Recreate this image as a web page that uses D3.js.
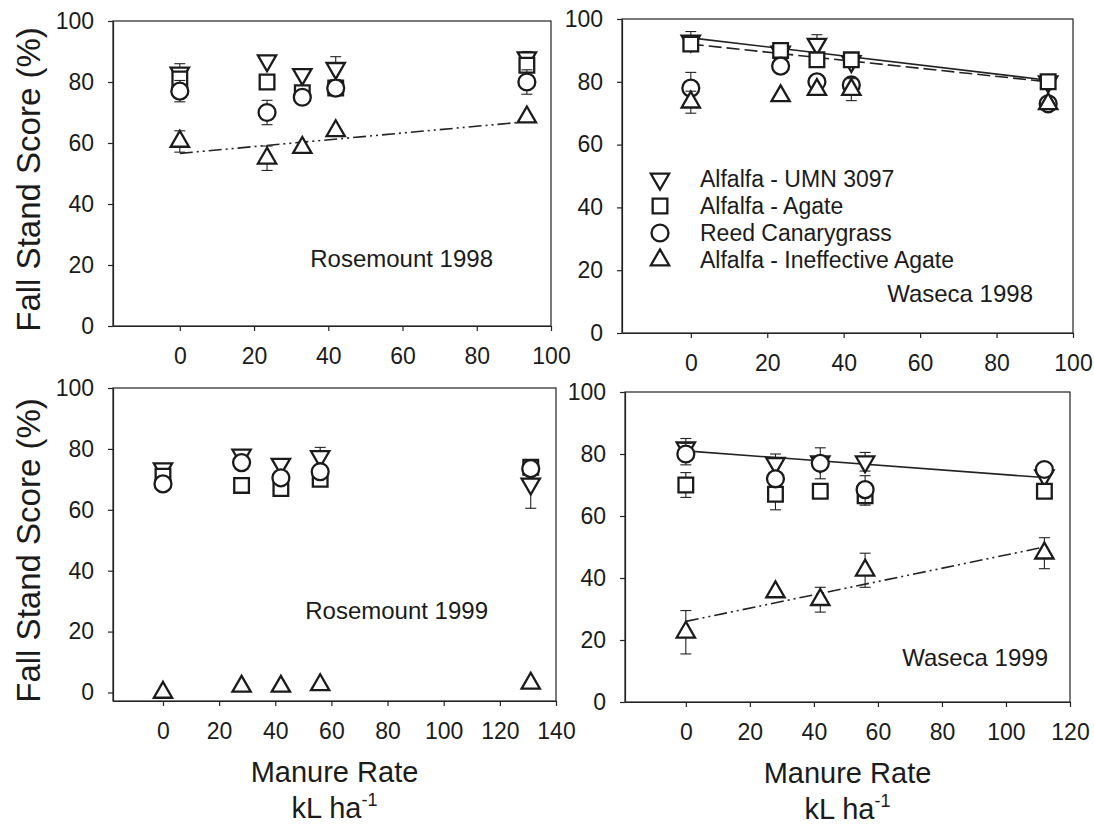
<!DOCTYPE html>
<html>
<head>
<meta charset="utf-8">
<script src="https://cdn.jsdelivr.net/npm/d3@7"></script>
<style>
	body { margin: 0; background: #fff; }
	svg text { font-family: "Liberation Sans", Arial, Helvetica, sans-serif; fill: #1b1b1b; }
	.axis path, .axis line { stroke: #222; stroke-width: 1.2; }
	.axis text { font-size: 23px; }
</style>
</head>
<body>
<svg id="graphic" width="1094" height="825"></svg>
<script>
// series, in legend (and drawing) order
const seriesNames = ["Alfalfa - UMN 3097", "Alfalfa - Agate", "Reed Canarygrass", "Alfalfa - Ineffective Agate"];
const seriesSymbols = ["down", "square", "circle", "up"];
const yTicks = [0, 20, 40, 60, 80, 100];

// Rosemount 1998
const rose98Rates = [0, 23.5, 33, 42, 93.5];
const rose98Umn = [83, 87, 82.5, 84.5, 88];
const rose98UmnErr = [3, 0, 0, 3.8, 2];
const rose98Agate = [81, 80, 76.5, 78, 85.5];
const rose98AgateErr = [0, 0, 0, 0, 0];
const rose98Reed = [77, 70, 75, 78, 80];
const rose98ReedErr = [3.5, 4, 0, 0, 4];
const rose98Ineff = [60.5, 55, 58.5, 64, 68.5];
const rose98IneffErr = [3.5, 4, 0, 0, 0];
const rose98FitX = [0, 93.5];
const rose98IneffFit = [56.6, 67];

// Waseca 1998
const wase98Rates = [0, 23.5, 33, 42, 93.5];
const wase98Umn = [93, 89.5, 92, 86.5, 80];
const wase98UmnErr = [3, 0, 3, 0, 0];
const wase98Agate = [92, 90, 87, 87, 80];
const wase98AgateErr = [0, 0, 0, 0, 0];
const wase98Reed = [78, 85, 80, 79, 73];
const wase98ReedErr = [5, 0, 0, 0, 0];
const wase98Ineff = [73.5, 75.5, 77.5, 77.5, 73];
const wase98IneffErr = [3.5, 0, 0, 3.5, 0];
const wase98FitX = [0, 93.5];
const wase98UmnFit = [94, 80.5];
const wase98AgateFit = [92, 80];

// Rosemount 1999
const rose99Rates = [0, 28, 42, 56, 131];
const rose99Umn = [73.5, 78, 75, 77.5, 68.5];
const rose99UmnErr = [0, 0, 0, 3, 8];
const rose99Agate = [71, 68, 67, 70, 74];
const rose99AgateErr = [0, 0, 0, 0, 0];
const rose99Reed = [68.5, 75.5, 70.5, 72.5, 73.5];
const rose99ReedErr = [0, 0, 0, 0, 0];
const rose99Ineff = [0, 2, 2, 2.5, 3];
const rose99IneffErr = [0, 0, 0, 0, 0];

// Waseca 1999
const wase99Rates = [0, 28, 42, 56, 112];
const wase99Umn = [82, 77, 77.5, 77.5, 73];
const wase99UmnErr = [3, 3, 0, 3, 0];
const wase99Agate = [70, 67, 68, 66.5, 68];
const wase99AgateErr = [4, 5, 0, 3, 0];
const wase99Reed = [80, 72, 77, 68.5, 75];
const wase99ReedErr = [3.5, 0, 5, 4.5, 0];
const wase99Ineff = [22.5, 35.5, 33, 42.5, 48];
const wase99IneffErr = [7, 0, 4, 5.5, 5];
const wase99FitX = [0, 112];
const wase99UmnFit = [81, 72.4];
const wase99IneffFit = [26, 50];

const dashSolid = null;
const dashLong = "13,5";
const dashDotDot = "13,4,2,4,2,4";

const svg = d3.select('#graphic');

const panels = [
	{
		label: "Rosemount 1998", box: { left: 113, top: 21, right: 551, bottom: 326 },
		xDomain: [-18, 100], xTicks: [0, 20, 40, 60, 80, 100], yDomain: [0, 100],
		rates: rose98Rates,
		values: [rose98Umn, rose98Agate, rose98Reed, rose98Ineff],
		errs: [rose98UmnErr, rose98AgateErr, rose98ReedErr, rose98IneffErr],
		fits: [{ x: rose98FitX, y: rose98IneffFit, dash: dashDotDot }],
		labelPos: { x: 493, y: 267 }, yTitle: true, xTitle: false, legend: false
	},
	{
		label: "Waseca 1998", box: { left: 622, top: 19, right: 1073, bottom: 333 },
		xDomain: [-18, 100], xTicks: [0, 20, 40, 60, 80, 100], yDomain: [0, 100],
		rates: wase98Rates,
		values: [wase98Umn, wase98Agate, wase98Reed, wase98Ineff],
		errs: [wase98UmnErr, wase98AgateErr, wase98ReedErr, wase98IneffErr],
		fits: [
			{ x: wase98FitX, y: wase98UmnFit, dash: dashSolid },
			{ x: wase98FitX, y: wase98AgateFit, dash: dashLong }
		],
		labelPos: { x: 1033, y: 302 }, yTitle: false, xTitle: false, legend: true
	},
	{
		label: "Rosemount 1999", box: { left: 113, top: 388, right: 556, bottom: 701 },
		xDomain: [-17.8, 140], xTicks: [0, 20, 40, 60, 80, 100, 120, 140], yDomain: [-2.8, 100],
		rates: rose99Rates,
		values: [rose99Umn, rose99Agate, rose99Reed, rose99Ineff],
		errs: [rose99UmnErr, rose99AgateErr, rose99ReedErr, rose99IneffErr],
		fits: [],
		labelPos: { x: 488, y: 619 }, yTitle: true, xTitle: true, legend: false
	},
	{
		label: "Waseca 1999", box: { left: 625, top: 392, right: 1070, bottom: 702 },
		xDomain: [-19, 120], xTicks: [0, 20, 40, 60, 80, 100, 120], yDomain: [0, 100],
		rates: wase99Rates,
		values: [wase99Umn, wase99Agate, wase99Reed, wase99Ineff],
		errs: [wase99UmnErr, wase99AgateErr, wase99ReedErr, wase99IneffErr],
		fits: [
			{ x: wase99FitX, y: wase99UmnFit, dash: dashSolid },
			{ x: wase99FitX, y: wase99IneffFit, dash: dashDotDot }
		],
		labelPos: { x: 1048, y: 666 }, yTitle: false, xTitle: true, legend: false
	}
];

function symbolFor(kind) {
	// d3 symbols: size is area
	if (kind === 'square') return d3.symbol(d3.symbolSquare, 215)();
	if (kind === 'circle') return d3.symbol(d3.symbolCircle, 225)();
	return d3.symbol(d3.symbolTriangle, 145)();
}

function drawMarker(g, kind, cx, cy) {
	g.append('path')
		.attr('d', symbolFor(kind))
		.attr('transform', `translate(${cx},${cy})` + (kind === 'down' ? ' rotate(180)' : ''))
		.attr('fill', '#fff')
		.attr('stroke', '#1b1b1b')
		.attr('stroke-width', 2.3);
}

function drawPanel(p) {
	const x = d3.scaleLinear().domain(p.xDomain).range([p.box.left, p.box.right]);
	const y = d3.scaleLinear().domain(p.yDomain).range([p.box.bottom, p.box.top]);
	const g = svg.append('g');

	// frame
	g.append('rect')
		.attr('x', p.box.left).attr('y', p.box.top)
		.attr('width', p.box.right - p.box.left)
		.attr('height', p.box.bottom - p.box.top)
		.attr('fill', 'none').attr('stroke', '#222').attr('stroke-width', 1.2);

	g.append('g')
		.attr('class', 'axis')
		.attr('transform', `translate(0,${p.box.bottom})`)
		.call(d3.axisBottom(x).tickValues(p.xTicks).tickSize(5).tickSizeOuter(0).tickPadding(17));

	g.append('g')
		.attr('class', 'axis')
		.attr('transform', `translate(${p.box.left},0)`)
		.call(d3.axisLeft(y).tickValues(yTicks).tickSize(5).tickSizeOuter(0).tickPadding(14));

	// fitted lines
	const line = d3.line().x(d => x(d[0])).y(d => y(d[1]));
	p.fits.forEach(f => {
		g.append('path')
			.datum(f.x.map((v, i) => [v, f.y[i]]))
			.attr('d', line)
			.attr('fill', 'none')
			.attr('stroke', '#222')
			.attr('stroke-width', 1.6)
			.attr('stroke-dasharray', f.dash);
	});

	// error bars and markers, one series at a time
	p.values.forEach((vals, s) => {
		const errs = p.errs[s];
		vals.forEach((v, i) => {
			const e = errs[i];
			if (!e) return;
			const cx = x(p.rates[i]);
			[v - e, v + e].forEach(end => {
				g.append('line')
					.attr('x1', cx).attr('x2', cx)
					.attr('y1', y(v)).attr('y2', y(end))
					.attr('stroke', '#222').attr('stroke-width', 1.1);
				g.append('line')
					.attr('x1', cx - 5.5).attr('x2', cx + 5.5)
					.attr('y1', y(end)).attr('y2', y(end))
					.attr('stroke', '#222').attr('stroke-width', 1.1);
			});
		});
		vals.forEach((v, i) => drawMarker(g, seriesSymbols[s], x(p.rates[i]), y(v)));
	});

	// site label
	g.append('text')
		.attr('x', p.labelPos.x).attr('y', p.labelPos.y)
		.attr('text-anchor', 'end')
		.style('font-size', '24px')
		.text(p.label);

	if (p.yTitle) {
		g.append('text')
			.attr('transform', `translate(40,${(p.box.top + p.box.bottom) / 2 + 6}) rotate(-90)`)
			.attr('text-anchor', 'middle')
			.style('font-size', '33px')
			.text('Fall Stand Score (%)');
	}

	if (p.xTitle) {
		const cx = (p.box.left + p.box.right) / 2;
		g.append('text')
			.attr('x', cx).attr('y', p.box.bottom + 81)
			.attr('text-anchor', 'middle')
			.style('font-size', '29px')
			.text('Manure Rate');
		const unit = g.append('text')
			.attr('x', cx).attr('y', p.box.bottom + 117)
			.attr('text-anchor', 'middle')
			.style('font-size', '29px');
		unit.append('tspan').text('kL ha');
		unit.append('tspan').attr('dy', -12).style('font-size', '18px').text('-1');
	}

	if (p.legend) {
		seriesNames.forEach((name, s) => {
			const ly = 179 + s * 27;
			drawMarker(g, seriesSymbols[s], 660, ly);
			g.append('text')
				.attr('x', 700).attr('y', ly + 8)
				.style('font-size', '23px')
				.text(name);
		});
	}
}

panels.forEach(drawPanel);
</script>
</body>
</html>
